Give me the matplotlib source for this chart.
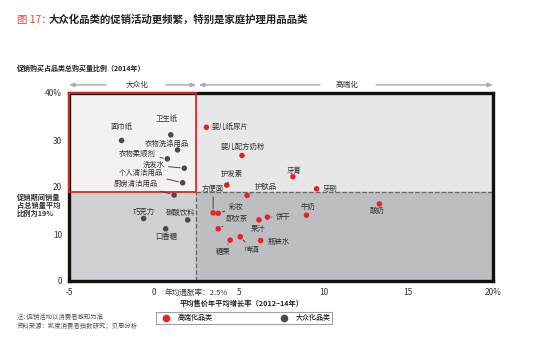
import matplotlib
matplotlib.use("Agg")
import matplotlib.pyplot as plt
from matplotlib.patches import Rectangle
import matplotlib.transforms as mtransforms

plt.rcParams['font.family'] = ['Noto Sans CJK SC', 'DejaVu Sans']

# data: (name, avg price growth %, promo share %)
premium_names = ['婴儿纸尿片', '婴儿配方奶粉', '护发素', '护肤品', '方便面', '彩妆', '即饮茶',
                 '饼干', '果汁', '牛奶', '酸奶', '牙膏', '牙刷', '糖果', '啤酒', '瓶装水']
premium_x = [3.1, 5.2, 4.3, 5.5, 3.5, 3.8, 3.8, 6.7, 6.2, 9.0, 13.3, 8.2, 9.6, 4.5, 5.1, 6.3]
premium_y = [32.7, 26.7, 20.4, 18.2, 14.5, 14.4, 11.1, 13.6, 13.0, 14.0, 16.4, 22.2, 19.6, 8.7, 9.4, 8.6]

mass_names = ['面巾纸', '卫生纸', '衣物洗涤用品', '衣物柔顺剂', '洗发水', '个人清洁用品', '厨房清洁用品',
              '巧克力', '碳酸饮料', '口香糖']
mass_x = [-1.9, 1.0, 1.4, 0.8, 1.8, 1.7, 1.2, -0.6, 2.0, 0.7]
mass_y = [29.9, 31.1, 27.9, 26.0, 24.0, 20.9, 18.3, 13.3, 13.0, 11.1]

inflation = 2.5
avg_promo = 19

x_ticks = [-5, 0, 5, 10, 15, 20]
x_ticklabels = ['-5', '0', '5', '10', '15', '20%']
y_ticks = [0, 10, 20, 30, 40]
y_ticklabels = ['0', '10', '20', '30', '40%']

# label offsets in pixels (dx, dy, leader line)
premium_offsets = {
    '婴儿纸尿片': (24, 0, False), '婴儿配方奶粉': (1, 9, False), '护发素': (5, 11, True),
    '护肤品': (19, 9, True), '方便面': (0, 24, True), '彩妆': (18, 6, True),
    '即饮茶': (18, 10, True), '饼干': (16, 0, True), '果汁': (-1, -9, False),
    '牛奶': (2, 8, False), '酸奶': (-2, -7, False), '牙膏': (1, 6, False),
    '牙刷': (13, 0, False), '糖果': (-7, -12, True), '啤酒': (12, -13, True),
    '瓶装水': (18, -1, False),
}
mass_offsets = {
    '面巾纸': (0, 13, False), '卫生纸': (-4, 16, False), '衣物洗涤用品': (-11, 6, False),
    '衣物柔顺剂': (-30, 5, True), '洗发水': (-31, 3, True), '个人清洁用品': (-42, 10, True),
    '厨房清洁用品': (-38, 11, True), '巧克力': (0, 7, False), '碳酸饮料': (-7, 7, False),
    '口香糖': (0, -8, False),
}

RED = '#e8231d'
DARK = '#4a4a4a'

fig = plt.figure(figsize=(5.54, 3.44), dpi=100)
ax = fig.add_axes([69 / 554, 1 - 281 / 344, 424 / 554, 188 / 344])
ax.set_xlim(-5, 20)
ax.set_ylim(0, 40)

# quadrant backgrounds
ax.add_patch(Rectangle((-5, avg_promo), inflation + 5, 40 - avg_promo, color='#f2f2f2', zorder=0))
ax.add_patch(Rectangle((inflation, avg_promo), 20 - inflation, 40 - avg_promo, color='#e7e7e9', zorder=0))
ax.add_patch(Rectangle((-5, 0), inflation + 5, avg_promo, color='#cfd0d3', zorder=0))
ax.add_patch(Rectangle((inflation, 0), 20 - inflation, avg_promo, color='#bdbec2', zorder=0))
ax.plot([inflation, 20], [avg_promo, avg_promo], ls='--', color='#666666', lw=0.9, zorder=1)
ax.plot([inflation, inflation], [0, avg_promo], ls='--', color='#666666', lw=0.9, zorder=1)

for s in ax.spines.values():
    s.set_linewidth(2.4)
    s.set_color('#111111')
ax.add_patch(Rectangle((-5, avg_promo), inflation + 5, 40 - avg_promo, fill=False,
                       edgecolor='#e8231d', lw=1.3, zorder=5, clip_on=False))

ax.set_xticks(x_ticks)
ax.set_xticklabels(x_ticklabels)
ax.set_yticks(y_ticks)
ax.set_yticklabels(y_ticklabels)
ax.tick_params(length=0, labelsize=6, colors='#333333', pad=5)

ax.scatter(premium_x, premium_y, s=16, color=RED, zorder=4, edgecolors='none')
ax.scatter(mass_x, mass_y, s=16, color=DARK, zorder=4, edgecolors='none')


def label_points(names, xs, ys, offsets):
    for n, x, y in zip(names, xs, ys):
        dx, dy, line = offsets[n]
        props = dict(arrowstyle='-', color='#444444', lw=0.7, shrinkA=1, shrinkB=3) if line else None
        ax.annotate(n, (x, y), xytext=(dx, dy), textcoords='offset pixels',
                    ha='center', va='center', fontsize=5.3, color='#333333',
                    arrowprops=props, zorder=6)


label_points(premium_names, premium_x, premium_y, premium_offsets)
label_points(mass_names, mass_x, mass_y, mass_offsets)

# top segment arrows
trans = mtransforms.blended_transform_factory(ax.transData, ax.transAxes)
ytop = 1.043
arrow = dict(arrowstyle='-|>,head_length=0.3,head_width=0.12', color='#aaaaaa', lw=1.0,
             shrinkA=0, shrinkB=0)
for x0, x1 in [(-2.8, -5), (0.7, inflation), (9.8, inflation + 0.15), (13.1, 20)]:
    ax.annotate('', xy=(x1, ytop), xytext=(x0, ytop), xycoords=trans, textcoords=trans,
                arrowprops=arrow, annotation_clip=False)
ax.text(-1.0, ytop, '大众化', transform=trans, ha='center', va='center', fontsize=5.5,
        color='#333333')
ax.text(11.4, ytop, '高端化', transform=trans, ha='center', va='center', fontsize=5.5,
        color='#333333')

ax.text(inflation, -0.042, '年均通胀率：2.5%', transform=trans, ha='center', va='top',
        fontsize=5.5, color='#333333')

# titles and notes
fig.text(17 / 554, 1 - 20 / 344, '图 17：', color='#e8413a', fontsize=7.5, style='italic',
         va='center', ha='left')
fig.text(49 / 554, 1 - 20 / 344, '大众化品类的促销活动更频繁，特别是家庭护理用品品类',
         fontsize=7.5, weight='bold', va='center', ha='left', color='#222222')
fig.text(17 / 554, 1 - 68 / 344, '促销购买占品类总购买量比例（2014年）', fontsize=5,
         weight='bold', va='center', ha='left', color='#222222')
fig.text(17 / 554, 1 - 193.5 / 344, '促销期间销量\n占总销量平均\n比例为19%', fontsize=5.2,
         weight='bold', va='top', ha='left', color='#333333', linespacing=1.15)
fig.text(242 / 554, 1 - 303 / 344, '平均售价年平均增长率（2012–14年）', fontsize=5.2,
         weight='bold', va='center', ha='center', color='#222222')
fig.text(17 / 554, 1 - 317 / 344, '注: 促销活动以消费者感知为准', fontsize=4.6, color='#555555',
         va='center', ha='left')
fig.text(17 / 554, 1 - 326 / 344, '资料来源：凯度消费者指数研究；贝恩分析', fontsize=4.6, color='#555555',
         va='center', ha='left')

h1 = plt.Line2D([], [], marker='o', ls='none', color=RED, markersize=4.5)
h2 = plt.Line2D([], [], marker='o', ls='none', color=DARK, markersize=4.5)
leg = fig.legend([h1, h2], ['高端化品类', '大众化品类'], loc='center',
                 bbox_to_anchor=(244 / 554, 1 - 318 / 344), ncol=2, fontsize=5,
                 frameon=True, fancybox=False, edgecolor='#888888', columnspacing=9,
                 handletextpad=0.5, borderpad=0.25, handlelength=2.4)
leg.get_frame().set_linewidth(0.8)

fig.savefig('out.png', dpi=100)
